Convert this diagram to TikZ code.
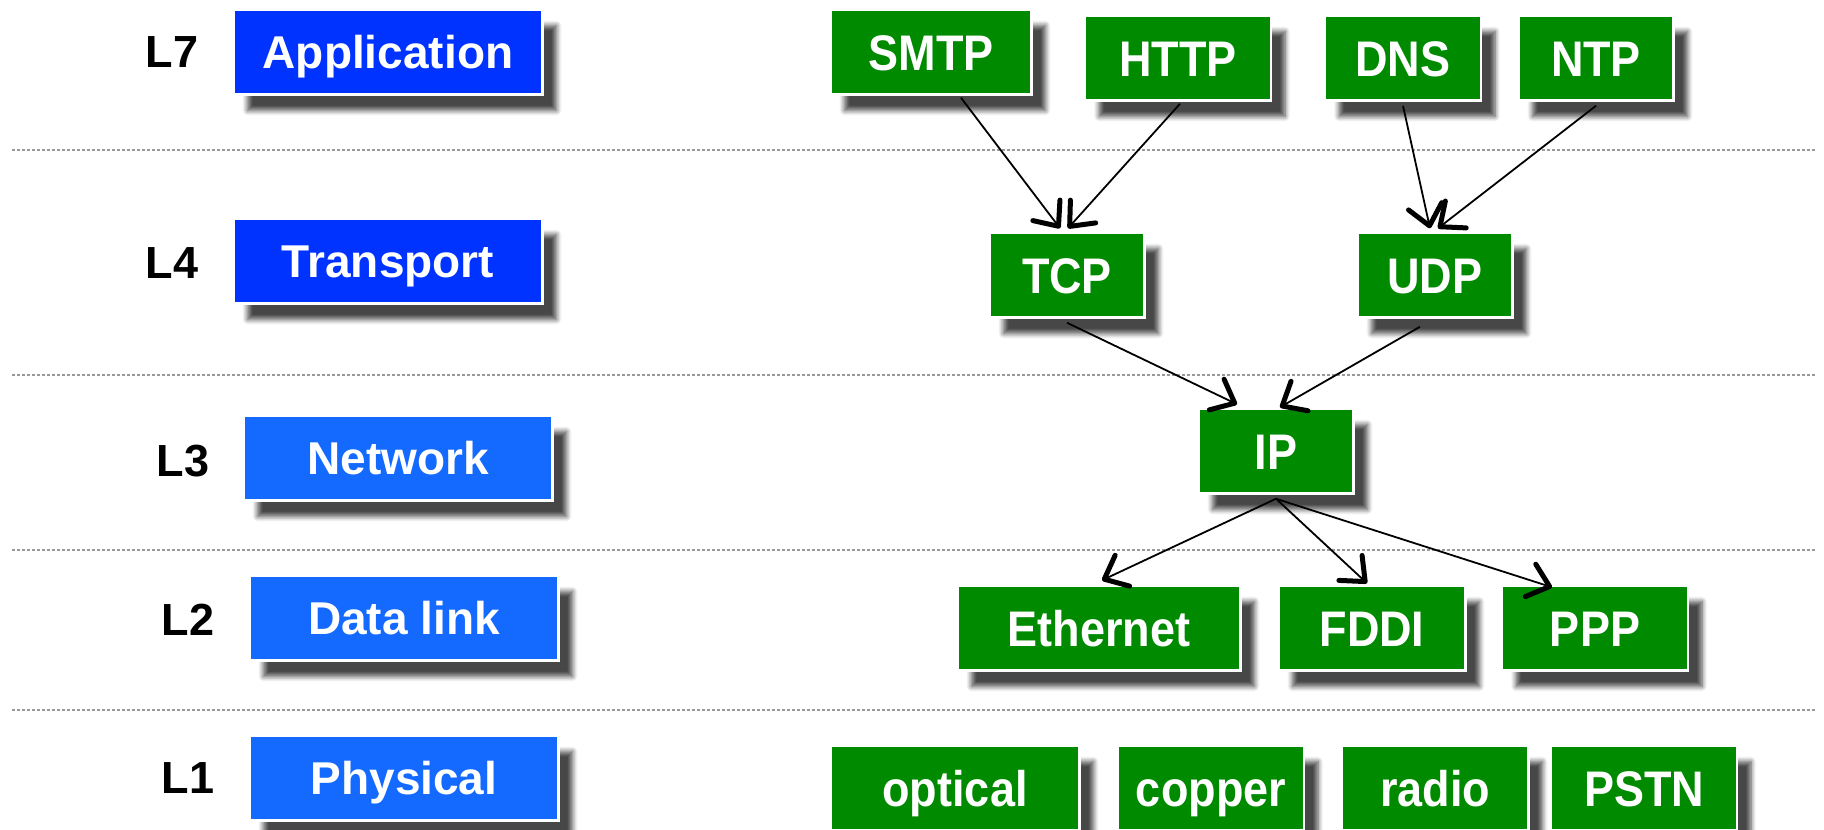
\documentclass[tikz,border=0pt]{standalone}
\usepackage{fontspec}
\setmainfont{Liberation Sans}
\newfontfamily\narrowsans{Liberation Sans}[FakeStretch=0.9]
\usepackage{xcolor}
\usepackage{tikz}
\usetikzlibrary{arrows.meta, calc, shadows, shadows.blur}

\definecolor{appblue}{RGB}{0,51,255}
\definecolor{netblue}{RGB}{20,105,255}
\definecolor{protogreen}{RGB}{0,138,0}

\begin{document}
\begin{tikzpicture}[x=1pt, y=-1pt,
	box/.style={draw=white, line width=2.5pt, text=white, minimum height=85pt, inner sep=0pt,
		text depth=0pt,
		blur shadow={shadow xshift=14pt, shadow yshift=-16pt, shadow blur radius=5pt,
			shadow opacity=72, shadow blur steps=6}},
	layerbox/.style={box, minimum width=309pt, text height=33pt, font=\fontsize{46}{50}\selectfont\bfseries},
	protobox/.style={box, fill=protogreen, text height=36pt, font=\narrowsans\fontsize{50}{54}\selectfont\bfseries},
	layertag/.style={font=\fontsize{45}{48}\selectfont\bfseries},
	divider/.style={gray!80, line width=1.2pt, dash pattern=on 3pt off 2pt},
	link/.style={line width=1.8pt, -{Straight Barb[length=20pt, width=34pt, line width=5pt, round]}}
]

	\useasboundingbox (0,0) rectangle (1824,830);
	\clip (0,0) rectangle (1824,830);

	% layer dividers
	\draw[divider] (12,150) -- (1815,150);
	\draw[divider] (12,375) -- (1815,375);
	\draw[divider] (12,550) -- (1815,550);
	\draw[divider] (12,710) -- (1815,710);

	% layers
	\node[layertag] (l7) at (172,52) {L7};
	\node[layertag] (l4) at (172,263) {L4};
	\node[layertag] (l3) at (183,461) {L3};
	\node[layertag] (l2) at (188,620) {L2};
	\node[layertag] (l1) at (188,778) {L1};

	\node[layerbox, fill=appblue] (app) at (388,52) {Application};
	\node[layerbox, fill=appblue] (trans) at (388,261) {Transport};
	\node[layerbox, fill=netblue] (net) at (398,458) {Network};
	\node[layerbox, fill=netblue] (link) at (404,618) {Data link};
	\node[layerbox, fill=netblue] (phys) at (404,778) {Physical};

	% protocols
	\node[protobox, minimum width=201pt] (smtp) at (931,52) {SMTP};
	\node[protobox, minimum width=186pt] (http) at (1178,58) {HTTP};
	\node[protobox, minimum width=156pt] (dns) at (1403,58) {DNS};
	\node[protobox, minimum width=155pt] (ntp) at (1596,58) {NTP};

	\node[protobox, minimum width=155pt] (tcp) at (1067,275) {TCP};
	\node[protobox, minimum width=155pt] (udp) at (1435,275) {UDP};

	\node[protobox, minimum width=155pt] (ip) at (1276,451) {IP};

	\node[protobox, minimum width=283pt] (eth) at (1099,628) {Ethernet};
	\node[protobox, minimum width=187pt] (fddi) at (1372,628) {FDDI};
	\node[protobox, minimum width=186pt] (ppp) at (1595,628) {PPP};

	\node[protobox, minimum width=249pt] (optical) at (955,788) {optical};
	\node[protobox, minimum width=186pt] (copper) at (1211,788) {copper};
	\node[protobox, minimum width=187pt] (radio) at (1435,788) {radio};
	\node[protobox, minimum width=186pt] (pstn) at (1644,788) {PSTN};

	% arrows
	\draw[link] ($ (smtp.south)+(30,2) $) -- ($ (tcp.north)+(-7,-3) $);
	\draw[link] ($ (http.south)+(2,2) $) -- ($ (tcp.north)+(1,-3) $);
	\draw[link] ($ (dns.south)+(0,4) $) -- ($ (udp.north)+(-5,-3) $);
	\draw[link] ($ (ntp.south)+(0,4) $) -- ($ (udp.north)+(3,-3) $);

	\draw[link] ($ (tcp.south)+(0,4) $) -- ($ (ip.north)+(-39,-3) $);
	\draw[link] ($ (udp.south)+(-15,8) $) -- ($ (ip.north)+(4,0) $);

	\draw[link] ($ (ip.south)+(0,4) $) -- ($ (eth.north)+(3,-4) $);
	\draw[link] ($ (ip.south)+(0,4) $) -- ($ (fddi.north)+(-5,-1) $);
	\draw[link] ($ (ip.south)+(0,4) $) -- ($ (ppp.north)+(-43,3) $);

\end{tikzpicture}
\end{document}
